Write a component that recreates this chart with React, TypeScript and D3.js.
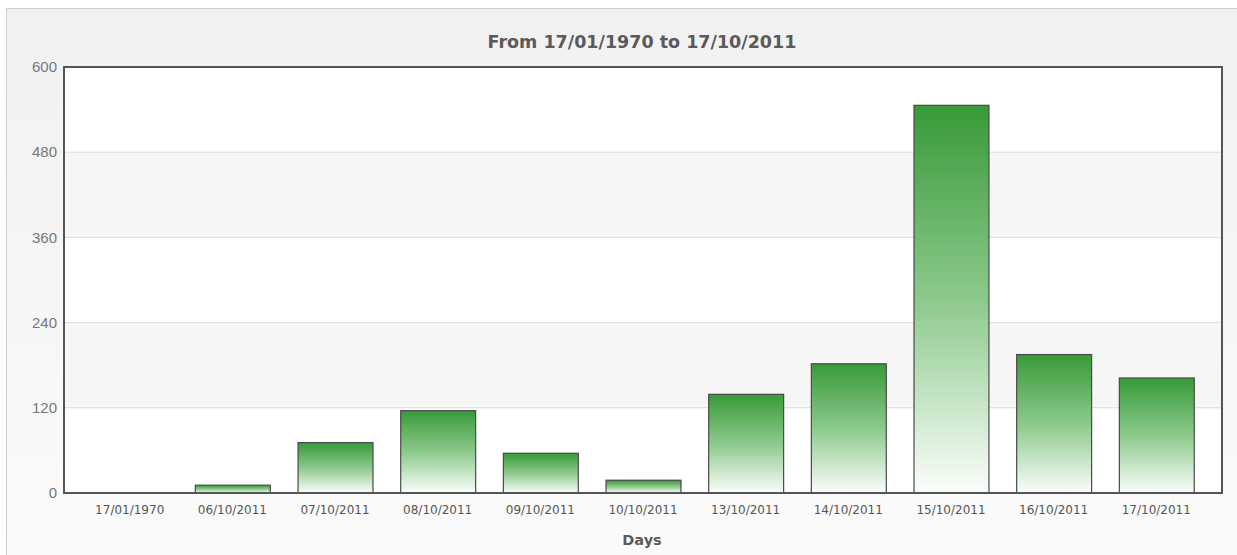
import React from 'react';
import * as d3 from 'd3';

const days = [
  '17/01/1970', '06/10/2011', '07/10/2011', '08/10/2011', '09/10/2011', '10/10/2011',
  '13/10/2011', '14/10/2011', '15/10/2011', '16/10/2011', '17/10/2011',
];
const counts = [0, 11, 71, 116, 56, 18, 139, 182, 546, 195, 162];
const yTicks = [0, 120, 240, 360, 480, 600];

const W = 1237;
const H = 555;
const plot = { left: 64, right: 1222, top: 67, bottom: 493 };

export default function App() {
  const x = d3.scaleBand<string>()
    .domain(days)
    .range([plot.left, plot.right])
    .paddingInner(0.27)
    .paddingOuter(0.275);
  const y = d3.scaleLinear().domain([0, 600]).range([plot.bottom, plot.top]);

  // alternating bands between ticks (white on top)
  const bands = d3.pairs(yTicks).map(([a, b], i) => ({ a, b, shade: i % 2 === 1 }));

  return (
    <svg width={W} height={H} style={{ position: 'absolute', left: 0, top: 0 }}>
      <defs>
        <linearGradient id="frameBg" x1="0" y1="0" x2="0" y2="1">
          <stop offset="0" stopColor="#f1f1f1" />
          <stop offset="1" stopColor="#fbfbfb" />
        </linearGradient>
        <linearGradient id="barFill" x1="0" y1="0" x2="0" y2="1">
          <stop offset="0" stopColor="#389a38" />
          <stop offset="0.5" stopColor="#8cc98c" />
          <stop offset="1" stopColor="#fbfefb" />
        </linearGradient>
      </defs>

      <rect x={0} y={0} width={W} height={H} fill="#fff" />
      <rect x={6.5} y={8.5} width={W} height={H} fill="url(#frameBg)" stroke="#cfcfcf" />

      <text x={642} y={48} textAnchor="middle" fontFamily="'DejaVu Sans', sans-serif"
        fontWeight="bold" fontSize={17.5} fill="#5a5a5a">
        From 17/01/1970 to 17/10/2011
      </text>

      {/* plot background bands */}
      {bands.map(d => (
        <rect key={d.a} x={plot.left} y={y(d.b)} width={plot.right - plot.left}
          height={y(d.a) - y(d.b)} fill={d.shade ? '#f6f6f6' : '#ffffff'} />
      ))}

      {yTicks.slice(1, -1).map(t => (
        <line key={t} x1={plot.left} x2={plot.right} y1={y(t)} y2={y(t)} stroke="#dcdcdc" />
      ))}

      {days.map((d, i) => counts[i] > 0 && (
        <rect key={d} x={x(d)! + 0.5} y={y(counts[i])} width={x.bandwidth()}
          height={y(0) - y(counts[i])} fill="url(#barFill)" stroke="#4a4a4a" strokeWidth={1.2} />
      ))}

      <rect x={plot.left} y={plot.top} width={plot.right - plot.left} height={plot.bottom - plot.top}
        fill="none" stroke="#555" strokeWidth={2} />

      {yTicks.map(t => (
        <text key={t} x={57} y={y(t)} dy="0.35em" textAnchor="end"
          fontFamily="'Liberation Sans', Arial, sans-serif" fontSize={15} fill="#777">
          {t}
        </text>
      ))}

      {days.map(d => (
        <text key={d} x={x(d)! + x.bandwidth() / 2} y={514} textAnchor="middle"
          fontFamily="'DejaVu Sans', sans-serif" fontSize={12} fill="#555">
          {d}
        </text>
      ))}

      <text x={642} y={545} textAnchor="middle" fontFamily="'DejaVu Sans', sans-serif"
        fontWeight="bold" fontSize={14.5} fill="#5a5a5a">
        Days
      </text>
    </svg>
  );
}
